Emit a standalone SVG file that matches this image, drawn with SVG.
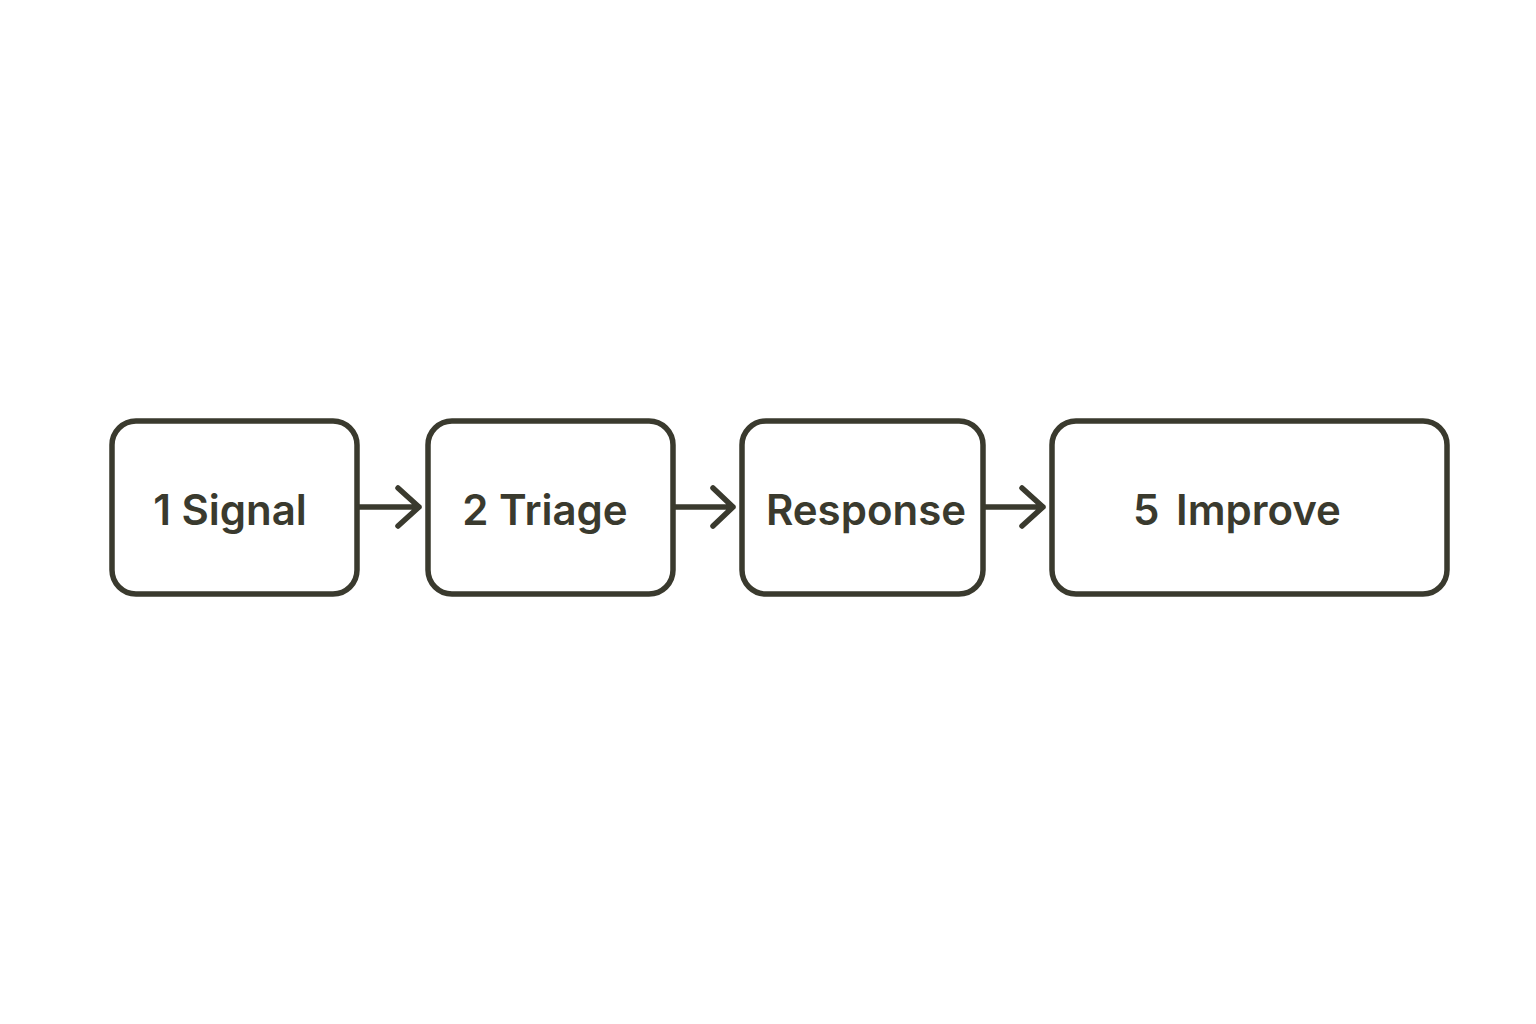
<svg xmlns="http://www.w3.org/2000/svg" width="1536" height="1024" viewBox="0 0 1536 1024">
<style>
.box{fill:#fff;stroke:#3a3a2e;stroke-width:5.5}
.lbl{font-family:Inter,"Open Sans","Liberation Sans",sans-serif;font-weight:600;font-size:42px;fill:#3a3a2e}
.conn{fill:none;stroke:#3a3a2e;stroke-width:5.5;stroke-linecap:round;stroke-linejoin:round}
</style>
<rect width="1536" height="1024" fill="#fff"/>
<g id="n1"><rect class="box" x="112" y="421" width="245" height="173" rx="24"/><text class="lbl" x="230" y="525" text-anchor="middle">1 Signal</text></g>
<g id="n2"><rect class="box" x="428" y="421" width="245" height="173" rx="24"/><text class="lbl" x="545" y="525" text-anchor="middle">2 Triage</text></g>
<g id="n3"><rect class="box" x="742" y="421" width="241" height="173" rx="24"/><text class="lbl" x="866" y="525" text-anchor="middle">Response</text></g>
<g id="n4"><rect class="box" x="1052" y="421" width="395" height="173" rx="24"/><text class="lbl" x="1237" y="525" text-anchor="middle" word-spacing="6">5 Improve</text></g>
<g id="connectors">
<path class="conn" d="M359 507H419M398 488L419 507L398 526"/>
<path class="conn" d="M675 507H733M713 488L733 507L713 526"/>
<path class="conn" d="M985 507H1043M1022 488L1043 507L1022 526"/>
</g>
</svg>
